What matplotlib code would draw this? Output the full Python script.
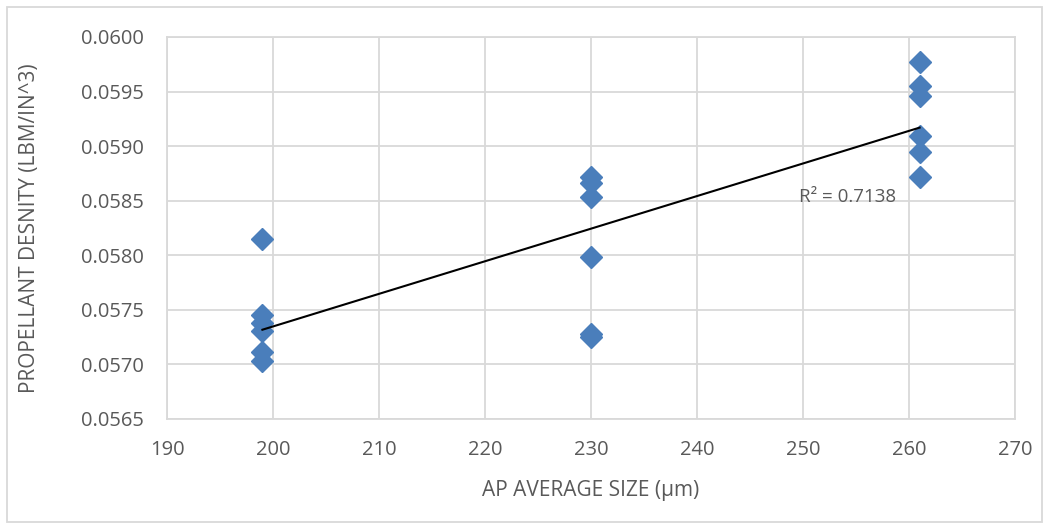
import matplotlib
matplotlib.use("Agg")
import matplotlib.pyplot as plt
from matplotlib.patches import Rectangle
import numpy as np

plt.rcParams['font.family'] = ['Open Sans', 'DejaVu Sans']

# AP average particle size (µm) and measured propellant density (lbm/in^3)
size_199 = [199] * 6
density_199 = [0.05815, 0.05745, 0.05738, 0.05731, 0.05711, 0.05703]
size_230 = [230] * 6
density_230 = [0.05872, 0.05866, 0.05853, 0.05798, 0.05728, 0.05725]
size_261 = [261] * 6
density_261 = [0.05977, 0.05955, 0.05946, 0.05909, 0.05895, 0.05872]

x_ticks = [190, 200, 210, 220, 230, 240, 250, 260, 270]
y_ticks = [0.0565, 0.0570, 0.0575, 0.0580, 0.0585, 0.0590, 0.0595, 0.0600]
r2_label = "R² = 0.7138"

sizes = np.array(size_199 + size_230 + size_261, dtype=float)
densities = np.array(density_199 + density_230 + density_261)

W, H = 1049, 529
fig = plt.figure(figsize=(W / 100, H / 100), dpi=100)
ax = fig.add_axes([167 / W, 1 - 419 / H, (1015 - 167) / W, (419 - 37) / H])

grid_c = '#D9D9D9'
text_c = '#595959'

ax.set_xlim(190, 270)
ax.set_ylim(0.0565, 0.0600)
ax.set_xticks(x_ticks)
ax.set_yticks(y_ticks)
ax.set_yticklabels([f"{v:.4f}" for v in y_ticks])
ax.grid(True, color=grid_c, linewidth=1.3)
ax.set_axisbelow(True)
for s in ax.spines.values():
    s.set_color(grid_c)
    s.set_linewidth(1.3)
ax.tick_params(length=0, colors=text_c, labelsize=14.5)
ax.tick_params(axis='x', pad=15)
ax.tick_params(axis='y', pad=16.5)

ax.plot(sizes, densities, linestyle='none', marker='D', markersize=11,
        color='#4A7EBB', zorder=3)

# linear least-squares trend line over the measured size range
slope, intercept = np.polyfit(sizes, densities, 1)
xs = np.array([sizes.min(), sizes.max()])
ax.plot(xs, slope * xs + intercept, color='black', linewidth=1.5, zorder=4)

ax.text(254.2, 0.058534, r2_label, ha='center', va='center',
        fontsize=13.5, color=text_c, zorder=5)

ax.set_xlabel("AP AVERAGE SIZE (µm)", fontsize=15, color=text_c, va='center')
ax.xaxis.set_label_coords(0.5, -0.186)
ax.set_ylabel("PROPELLANT DESNITY (LBM/IN^3)", fontsize=15, color=text_c, va='center')
ax.yaxis.set_label_coords(-0.1616, 0.5)

fig.patches.append(Rectangle((7 / W, 1 - 522 / H), (1042 - 7) / W, (522 - 7) / H,
                             transform=fig.transFigure, fill=False,
                             edgecolor=grid_c, linewidth=1.3))

fig.savefig("out.png", dpi=100)
